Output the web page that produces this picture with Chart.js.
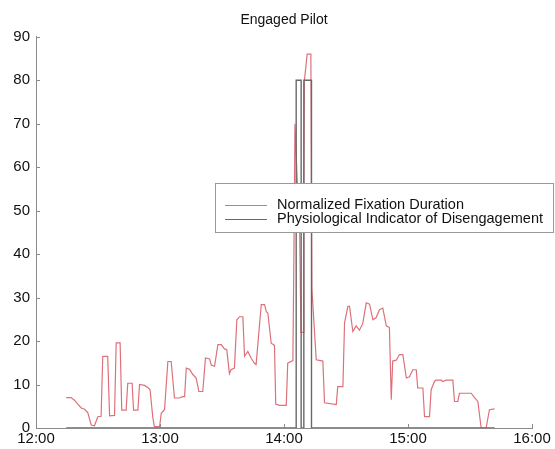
<!DOCTYPE html>
<html>
  <head>
    <title>Engaged Pilot</title>
    <script src="https://cdn.jsdelivr.net/npm/chart.js"></script>
    <style>
      html,
      body {
        margin: 0;
        padding: 0;
        background: #fff;
      }
      canvas {
        display: block;
      }
    </style>
  </head>
  <body>
    <canvas id="graph" width="555" height="449"></canvas>
    <script>
      // minutes after 12:00
      const fixationTimes = [
        14.6, 17.0, 18.6, 20.2, 21.9, 23.5, 25.1, 26.7, 28.3, 29.9, 31.5, 32.3,
        34.7, 35.6, 38.0, 38.8, 40.7, 41.5, 43.6, 44.4, 46.5, 47.2, 49.3, 50.1,
        52.5, 54.1, 55.2, 56.5, 57.3, 59.8, 60.6, 62.2, 63.8, 65.4, 67.0, 69.4,
        71.0, 71.9, 72.7, 74.3, 75.9, 77.5, 78.8, 80.7, 82.0, 84.0, 84.8, 86.4,
        88.0, 89.6, 91.2, 92.3, 93.6, 94.4, 96.0, 97.2, 98.5, 100.1, 100.9,
        102.5, 104.2, 105.7, 106.5, 107.3, 109.0, 110.6, 111.4, 112.2, 113.8,
        115.4, 116.0, 117.8, 121.1, 121.8, 124.3, 124.8, 125.3, 126.3, 127.6,
        128.2, 129.2, 129.6, 129.9, 131.2, 133.0, 133.5, 135.6, 138.8, 139.6,
        145.3, 146.0, 148.5, 149.3, 150.9, 151.7, 153.3, 154.9, 156.5, 158.1,
        159.8, 161.4, 163.0, 164.6, 166.2, 167.8, 169.5, 171.0, 171.9, 172.6,
        174.3, 175.9, 177.5, 179.2, 180.7, 182.3, 184.0, 184.7, 187.2, 188.0,
        190.4, 191.2, 192.8, 193.6, 196.1, 196.8, 198.5, 201.7, 202.5, 204.1,
        204.9, 210.6, 212.2, 213.8, 215.4, 217.8, 219.4, 221.9,
      ];
      const fixationValues = [
        7.0, 7.0, 6.4, 5.5, 4.6, 4.3, 3.5, 0.7, 0.5, 2.6, 2.7, 16.5, 16.5, 2.8,
        2.9, 19.6, 19.6, 4.1, 4.1, 10.3, 10.3, 4.1, 4.1, 10.0, 9.8, 9.3, 8.8,
        2.5, 0.3, 0.3, 3.4, 4.2, 15.3, 15.3, 6.9, 6.9, 7.2, 7.2, 13.8, 13.5,
        12.3, 11.5, 8.4, 8.4, 16.1, 15.9, 14.5, 14.2, 19.2, 19.2, 18.2, 18.0,
        12.5, 13.4, 13.8, 24.9, 25.6, 25.6, 16.5, 17.6, 16.0, 14.9, 14.6, 19.0,
        28.4, 28.4, 26.8, 26.4, 19.5, 19.0, 5.5, 5.2, 5.2, 14.9, 15.5, 40, 70,
        58, 45, 22, 22, 55, 80, 86, 86, 32, 15.7, 15.4, 5.8, 5.4, 9.5, 9.5,
        24.2, 28.0, 28.0, 22.2, 23.5, 22.5, 24.0, 28.8, 28.5, 24.9, 25.4, 27.2,
        27.6, 23.5, 23.1, 6.5, 15.4, 15.6, 16.9, 16.9, 11.5, 11.8, 13.4, 13.4,
        9.2, 9.2, 2.6, 2.6, 8.8, 10.7, 11.0, 11.0, 10.7, 11.0, 11.0, 6.1, 6.1,
        8.0, 8.0, 7.0, 6.1, 0.0, 0.0, 4.2, 4.4,
      ];

      const indicatorTimes = [
        14.6, 125.9, 125.9, 128.3, 128.3, 129.6, 129.6, 133.3, 133.3, 221.9,
      ];
      const indicatorValues = [0, 0, 80, 80, 0, 0, 80, 80, 0, 0];

      const seriesLabels = [
        "Normalized Fixation Duration",
        "Physiological Indicator of Disengagement",
      ];
      const hourLabels = ["12:00", "13:00", "14:00", "15:00", "16:00"];
      const yTicks = [0, 10, 20, 30, 40, 50, 60, 70, 80, 90];

      const toPoints = (xs, ys) => xs.map((x, i) => ({ x: x, y: ys[i] }));

      const axisColor = "#8a8a8a";
      const fontFamily = "'Liberation Sans', Arial, sans-serif";

      // small tick marks pointing into the plot, plus the boxed legend
      const decorations = {
        id: "decorations",
        afterDatasetsDraw(chart) {
          const ctx = chart.ctx;
          const area = chart.chartArea;
          const xs = chart.scales.x;
          const ys = chart.scales.y;
          ctx.save();
          ctx.strokeStyle = axisColor;
          ctx.lineWidth = 1;
          yTicks.forEach((v) => {
            const py = Math.round(ys.getPixelForValue(v)) + 0.5;
            ctx.beginPath();
            ctx.moveTo(area.left, py);
            ctx.lineTo(area.left + 4, py);
            ctx.stroke();
          });
          hourLabels.forEach((_, i) => {
            const px = Math.round(xs.getPixelForValue(i * 60)) + 0.5;
            ctx.beginPath();
            ctx.moveTo(px, area.bottom);
            ctx.lineTo(px, area.bottom - 4);
            ctx.stroke();
          });

          // legend
          const lx = 215,
            ly = 183,
            lw = 338,
            lh = 49;
          ctx.fillStyle = "#fff";
          ctx.fillRect(lx, ly, lw, lh);
          ctx.strokeStyle = "#999";
          ctx.strokeRect(lx + 0.5, ly + 0.5, lw, lh);
          ctx.font = "14.5px " + fontFamily;
          ctx.textBaseline = "middle";
          chart.data.datasets.forEach((ds, i) => {
            const rowY = ly + 22 + i * 14;
            ctx.strokeStyle = ds.borderColor;
            ctx.lineWidth = 1;
            ctx.beginPath();
            ctx.moveTo(lx + 10, rowY + 0.5);
            ctx.lineTo(lx + 52, rowY + 0.5);
            ctx.stroke();
            ctx.fillStyle = "#111";
            ctx.fillText(ds.label, lx + 62, rowY);
          });
          ctx.restore();
        },
      };

      const ctx = document.getElementById("graph").getContext("2d");
      const graph = new Chart(ctx, {
        type: "line",
        data: {
          datasets: [
            {
              label: seriesLabels[0],
              data: toPoints(fixationTimes, fixationValues),
              borderColor: "rgb(222, 112, 122)",
              borderWidth: 1.2,
              pointRadius: 0,
              tension: 0,
              order: 1,
            },
            {
              label: seriesLabels[1],
              data: toPoints(indicatorTimes, indicatorValues),
              borderColor: "rgb(105, 105, 105)",
              borderWidth: 1.4,
              pointRadius: 0,
              tension: 0,
              order: 0,
            },
          ],
        },
        options: {
          animation: false,
          responsive: false,
          maintainAspectRatio: false,
          layout: { padding: { left: 0, right: 23, top: 0, bottom: 0 } },
          plugins: {
            legend: { display: false },
            tooltip: { enabled: false },
            title: {
              display: true,
              fullSize: false,
              text: "Engaged Pilot",
              color: "#111",
              font: { family: fontFamily, size: 14, weight: "normal" },
              padding: { top: 12, bottom: 8 },
            },
          },
          scales: {
            x: {
              type: "linear",
              min: 0,
              max: 240,
              grid: { display: false, drawTicks: false },
              border: { display: true, color: axisColor, width: 1 },
              ticks: {
                stepSize: 60,
                autoSkip: false,
                maxRotation: 0,
                padding: 2,
                color: "#111",
                font: { family: fontFamily, size: 15 },
                callback: (v) => hourLabels[v / 60],
              },
              afterFit: (scale) => {
                scale.height = 21;
              },
            },
            y: {
              min: 0,
              max: 90,
              grid: { display: false, drawTicks: false },
              border: { display: true, color: axisColor, width: 1 },
              ticks: {
                stepSize: 10,
                autoSkip: false,
                padding: 6,
                color: "#111",
                font: { family: fontFamily, size: 15 },
              },
              afterFit: (scale) => {
                scale.width = 36;
              },
            },
          },
        },
        plugins: [decorations],
      });
    </script>
  </body>
</html>
